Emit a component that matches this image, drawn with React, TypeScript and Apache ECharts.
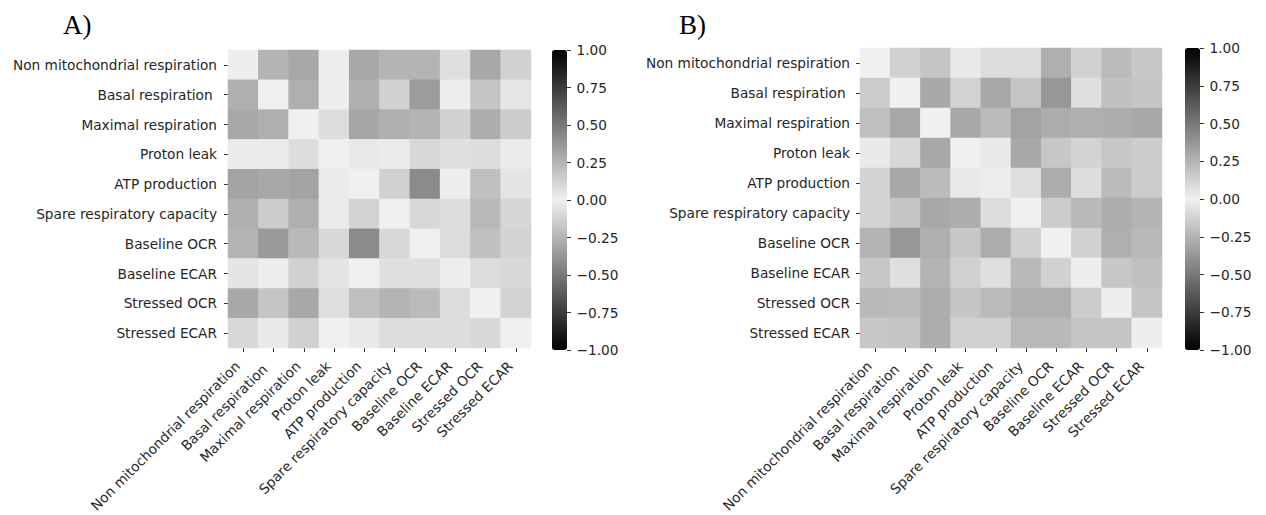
import React, { useEffect, useRef } from "react";
import * as echarts from "echarts";

const categories = [
  "Non mitochondrial respiration",
  "Basal respiration ",
  "Maximal respiration",
  "Proton leak",
  "ATP production",
  "Spare respiratory capacity",
  "Baseline OCR",
  "Baseline ECAR",
  "Stressed OCR",
  "Stressed ECAR",
];

const colorbarTicks = [-1, -0.75, -0.5, -0.25, 0, 0.25, 0.5, 0.75, 1];

// Panel A matrix (row = y category, column = x category)
const corrA = [
  [0.01, 0.25, 0.3, 0.01, 0.3, 0.25, 0.25, 0.07, 0.3, 0.13],
  [0.27, 0.0, 0.27, 0.01, 0.27, 0.13, 0.35, 0.01, 0.18, 0.04],
  [0.3, 0.27, 0.0, 0.08, 0.31, 0.27, 0.25, 0.13, 0.28, 0.15],
  [0.02, 0.02, 0.08, 0.0, 0.03, 0.02, 0.1, 0.07, 0.08, 0.02],
  [0.32, 0.3, 0.32, 0.02, 0.0, 0.13, 0.42, 0.01, 0.2, 0.05],
  [0.27, 0.15, 0.27, 0.02, 0.12, 0.0, 0.1, 0.08, 0.23, 0.11],
  [0.25, 0.36, 0.23, 0.1, 0.42, 0.1, 0.0, 0.08, 0.2, 0.12],
  [0.05, 0.01, 0.13, 0.05, 0.0, 0.07, 0.07, 0.01, 0.08, 0.1],
  [0.3, 0.18, 0.3, 0.07, 0.2, 0.25, 0.22, 0.08, 0.0, 0.12],
  [0.1, 0.03, 0.13, 0.0, 0.03, 0.08, 0.08, 0.08, 0.1, 0.0],
];

// Panel B matrix
const corrB = [
  [0.0, 0.13, 0.18, 0.03, 0.08, 0.08, 0.27, 0.13, 0.22, 0.17],
  [0.15, 0.0, 0.3, 0.12, 0.3, 0.18, 0.37, 0.07, 0.2, 0.18],
  [0.2, 0.3, 0.0, 0.3, 0.22, 0.32, 0.28, 0.27, 0.28, 0.3],
  [0.03, 0.1, 0.3, 0.0, 0.03, 0.3, 0.17, 0.12, 0.17, 0.15],
  [0.12, 0.3, 0.22, 0.03, 0.01, 0.07, 0.28, 0.08, 0.22, 0.15],
  [0.12, 0.18, 0.3, 0.28, 0.08, 0.0, 0.15, 0.23, 0.28, 0.25],
  [0.25, 0.37, 0.27, 0.17, 0.28, 0.13, 0.0, 0.13, 0.27, 0.23],
  [0.17, 0.07, 0.25, 0.13, 0.07, 0.23, 0.13, 0.01, 0.17, 0.2],
  [0.23, 0.22, 0.28, 0.18, 0.22, 0.27, 0.27, 0.15, 0.01, 0.18],
  [0.17, 0.18, 0.28, 0.13, 0.13, 0.23, 0.23, 0.18, 0.18, 0.01],
];

const TEXT = "#262626";
const FONT = "DejaVu Sans";
const FS = 13.7;

function toData(m: number[][]) {
  const out: [number, number, number][] = [];
  m.forEach((row, r) => row.forEach((v, c) => out.push([c, r, v])));
  return out;
}

const fmt = (v: number) => (v < 0 ? "\u2212" : "") + Math.abs(v).toFixed(2);

export default function App() {
  const ref = useRef<HTMLDivElement>(null);
  useEffect(() => {
    if (!ref.current) return;
    const chart = echarts.init(ref.current, null, { renderer: "svg" });

    const panels = [
      { left: 228, top: 50, width: 303, height: 300, cbLeft: 552, yMargin: 11 },
      { left: 860, top: 48, width: 302, height: 302, cbLeft: 1185, yMargin: 10 },
    ];

    const grids: any[] = [];
    const xAxes: any[] = [];
    const yAxes: any[] = [];
    panels.forEach((p) => {
      grids.push({ left: p.left, top: p.top, width: p.width, height: p.height });
      xAxes.push({
        type: "category",
        data: categories,
        gridIndex: grids.length - 1,
        position: "bottom",
        axisLine: { show: false },
        axisTick: { show: true, alignWithLabel: true, length: 4, lineStyle: { color: "#333" } },
        axisLabel: {
          rotate: 45,
          interval: 0,
          margin: 10,
          padding: [0, 8, 0, 0],
          color: TEXT,
          fontFamily: FONT,
          fontSize: FS,
        },
        splitLine: { show: false },
      });
      yAxes.push({
        type: "category",
        data: categories,
        gridIndex: grids.length - 1,
        inverse: true,
        position: "left",
        axisLine: { show: false },
        axisTick: { show: true, alignWithLabel: true, length: 4, lineStyle: { color: "#333" } },
        axisLabel: {
          interval: 0,
          margin: p.yMargin,
          color: TEXT,
          fontFamily: FONT,
          fontSize: FS,
        },
        splitLine: { show: false },
      });
    });
    // colorbar axes
    panels.forEach((p) => {
      grids.push({ left: p.cbLeft, top: p.top, width: 15, height: p.height });
      xAxes.push({
        type: "category",
        data: [""],
        gridIndex: grids.length - 1,
        show: false,
      });
      yAxes.push({
        type: "value",
        gridIndex: grids.length - 1,
        position: "right",
        min: colorbarTicks[0],
        max: colorbarTicks[colorbarTicks.length - 1],
        interval: 0.25,
        axisLine: { show: false },
        axisTick: { show: true, length: 4, lineStyle: { color: "#333" } },
        axisLabel: {
          margin: 9.5,
          color: TEXT,
          fontFamily: FONT,
          fontSize: FS,
          formatter: fmt,
        },
        splitLine: { show: false },
      });
    });

    const colors = ["#000000", "#f0f0f0", "#000000"];

    chart.setOption({
      animation: false,
      backgroundColor: "#ffffff",
      grid: grids,
      xAxis: xAxes,
      yAxis: yAxes,
      visualMap: panels.map((p, i) => ({
        type: "continuous",
        min: -1,
        max: 1,
        seriesIndex: i,
        calculable: false,
        hoverLink: false,
        left: p.cbLeft,
        top: p.top,
        itemWidth: 15,
        itemHeight: p.height,
        padding: 0,
        text: null,
        showLabel: false,
        inRange: { color: colors },
      })),
      series: [
        {
          type: "heatmap",
          xAxisIndex: 0,
          yAxisIndex: 0,
          data: toData(corrA),
          itemStyle: { borderWidth: 0 },
          emphasis: { disabled: true },
        },
        {
          type: "heatmap",
          xAxisIndex: 1,
          yAxisIndex: 1,
          data: toData(corrB),
          itemStyle: { borderWidth: 0 },
          emphasis: { disabled: true },
        },
      ],
      graphic: [
        {
          type: "text",
          left: 63,
          top: 11,
          style: { text: "A)", font: "27px 'Liberation Serif'", fill: "#000" },
        },
        {
          type: "text",
          left: 679,
          top: 11,
          style: { text: "B)", font: "27px 'Liberation Serif'", fill: "#000" },
        },
      ],
    });
    return () => chart.dispose();
  }, []);
  return (
    <div
      ref={ref}
      style={{ position: "fixed", left: 0, top: 0, width: 1266, height: 515, background: "#fff" }}
    />
  );
}
